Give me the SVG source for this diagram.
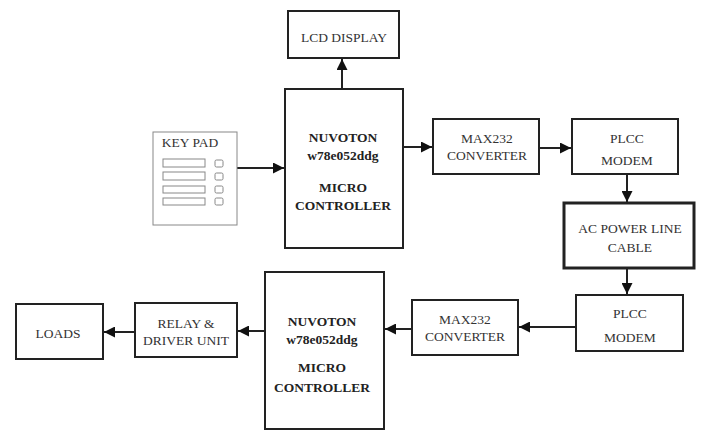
<svg xmlns="http://www.w3.org/2000/svg" width="702" height="432" viewBox="0 0 702 432">
<style>
.box{fill:#fff;stroke:#222;stroke-width:2}
.thick{fill:#fff;stroke:#222;stroke-width:3}
.kp{fill:#fff;stroke:#888;stroke-width:1}
.t{font-family:"Liberation Serif","Times New Roman",serif;font-size:13.5px;fill:#333;text-anchor:middle}
.b{font-family:"Liberation Serif","Times New Roman",serif;font-size:13.5px;font-weight:bold;fill:#222;text-anchor:middle}
.c{stroke:#222;stroke-width:2;fill:none;marker-end:url(#ah)}
</style>
<defs>
<marker id="ah" viewBox="0 0 10 10" refX="10" refY="5" markerWidth="5.5" markerHeight="5.5" orient="auto" markerUnits="strokeWidth">
<path d="M0,0 L10,5 L0,10 z" fill="#111"/>
</marker>
</defs>
<rect width="702" height="432" fill="#fff"/>
<g id="connectors">
<line class="c" x1="342" y1="89" x2="342" y2="59"/>
<line class="c" x1="237" y1="168" x2="284" y2="168"/>
<line class="c" x1="403" y1="147" x2="432" y2="147"/>
<line class="c" x1="539" y1="148" x2="571" y2="148"/>
<line class="c" x1="627" y1="174" x2="627" y2="202"/>
<line class="c" x1="627" y1="268" x2="627" y2="294"/>
<line class="c" x1="576" y1="327" x2="519" y2="327"/>
<line class="c" x1="411" y1="329" x2="385" y2="329"/>
<line class="c" x1="265" y1="331" x2="238" y2="331"/>
<line class="c" x1="135" y1="332" x2="104" y2="332"/>
</g>
<g id="lcd">
<rect class="box" x="288" y="11" width="111" height="47"/>
<text class="t" x="344" y="41.5">LCD DISPLAY</text>
</g>
<g id="mcu1">
<rect class="box" x="285" y="89" width="118" height="159"/>
<text class="b" x="343" y="141.5">NUVOTON</text>
<text class="b" x="343" y="159.5">w78e052ddg</text>
<text class="b" x="343" y="191.5">MICRO</text>
<text class="b" x="343" y="209.5">CONTROLLER</text>
</g>
<g id="keypad">
<rect class="kp" x="153" y="132" width="84" height="93"/>
<text class="t" x="190" y="147" font-size="12.5">KEY PAD</text>
<rect class="kp" x="163" y="159" width="42" height="8"/>
<rect class="kp" x="163" y="172" width="42" height="8"/>
<rect class="kp" x="163" y="186" width="42" height="7"/>
<rect class="kp" x="163" y="198" width="42" height="7"/>
<rect class="kp" x="215" y="160" width="8" height="7" rx="1.5"/>
<rect class="kp" x="215" y="173" width="8" height="7" rx="1.5"/>
<rect class="kp" x="215" y="186" width="8" height="7" rx="1.5"/>
<rect class="kp" x="215" y="198" width="8" height="7" rx="1.5"/>
</g>
<g id="max1">
<rect class="box" x="433" y="119" width="106" height="55"/>
<text class="t" x="487" y="142.5">MAX232</text>
<text class="t" x="487" y="159.5">CONVERTER</text>
</g>
<g id="plcc1">
<rect class="box" x="572" y="119" width="106" height="55"/>
<text class="t" x="627" y="142.5">PLCC</text>
<text class="t" x="627" y="164.5">MODEM</text>
</g>
<g id="acline">
<rect class="thick" x="564" y="203" width="130" height="65"/>
<text class="t" x="630" y="232.5">AC POWER LINE</text>
<text class="t" x="630" y="251.5">CABLE</text>
</g>
<g id="plcc2">
<rect class="box" x="576" y="295" width="107" height="56"/>
<text class="t" x="630" y="317.5">PLCC</text>
<text class="t" x="630" y="341.5">MODEM</text>
</g>
<g id="max2">
<rect class="box" x="412" y="300" width="106" height="55"/>
<text class="t" x="465" y="323.5">MAX232</text>
<text class="t" x="465" y="340.5">CONVERTER</text>
</g>
<g id="mcu2">
<rect class="box" x="265" y="272" width="119" height="157"/>
<text class="b" x="322" y="325.5">NUVOTON</text>
<text class="b" x="322" y="343.5">w78e052ddg</text>
<text class="b" x="322" y="371.5">MICRO</text>
<text class="b" x="322" y="391.5">CONTROLLER</text>
</g>
<g id="relay">
<rect class="box" x="135" y="303" width="102" height="54"/>
<text class="t" x="186" y="327.5">RELAY &amp;</text>
<text class="t" x="186" y="344.5">DRIVER UNIT</text>
</g>
<g id="loads">
<rect class="box" x="16" y="304" width="87" height="55"/>
<text class="t" x="58" y="337.5">LOADS</text>
</g>
</svg>
